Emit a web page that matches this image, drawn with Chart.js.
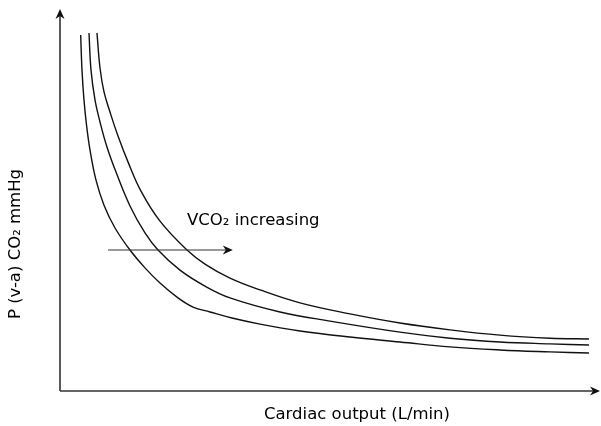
<!DOCTYPE html>
<html>
<head>
<meta charset="utf-8">
<script src="https://cdn.jsdelivr.net/npm/chart.js@4"></script>
<style>
  html, body { margin: 0; padding: 0; background: #fff; }
  #wrap { width: 601px; height: 426px; }
</style>
</head>
<body>
<div id="wrap"><canvas id="c" width="601" height="426"></canvas></div>
<script>
// cardiac output (arbitrary units along the x axis)
const lowX  = [0.383, 0.407, 0.444, 0.491, 0.556, 0.667, 0.815, 1.019, 1.296, 1.574, 1.852, 2.167, 2.463, 2.778, 3.185, 3.704, 4.444, 5.370, 6.296, 7.222, 8.148, 9.074, 9.796];
const lowY  = [9.37, 8.45, 7.66, 7.00, 6.34, 5.55, 4.89, 4.29, 3.71, 3.24, 2.84, 2.47, 2.21, 2.08, 1.92, 1.76, 1.58, 1.42, 1.29, 1.16, 1.08, 1.03, 1.00];
const midX  = [0.537, 0.574, 0.648, 0.741, 0.870, 1.037, 1.296, 1.574, 1.815, 2.222, 2.685, 3.148, 4.074, 5.000, 6.296, 7.222, 8.148, 9.074, 9.796];
const midY  = [9.42, 8.45, 7.66, 7.08, 6.42, 5.76, 4.87, 4.16, 3.71, 3.18, 2.76, 2.45, 2.08, 1.84, 1.55, 1.39, 1.29, 1.24, 1.21];
const highX = [0.685, 0.741, 0.815, 0.926, 1.074, 1.259, 1.500, 1.852, 2.352, 2.685, 3.148, 3.704, 4.444, 5.370, 6.296, 7.222, 8.148, 9.074, 9.796];
const highY = [9.42, 8.50, 7.87, 7.34, 6.71, 6.03, 5.26, 4.47, 3.71, 3.34, 2.97, 2.66, 2.32, 2.03, 1.79, 1.61, 1.47, 1.39, 1.37];

const xTitle = 'Cardiac output (L/min)';
const yTitle = 'P (v-a) CO₂ mmHg';
const noteText = 'VCO₂ increasing';
const noteArrow = { x0: 0.89, x1: 3.20, y: 3.71 };

const toPts = (xs, ys) => xs.map((x, i) => ({ x: x, y: ys[i] }));

function arrowHead(ctx, x, y, dir) {
  ctx.save();
  ctx.translate(x, y);
  ctx.rotate(dir);
  ctx.beginPath();
  ctx.moveTo(0, 0);
  ctx.lineTo(-10, -4.5);
  ctx.lineTo(-7, 0);
  ctx.lineTo(-10, 4.5);
  ctx.closePath();
  ctx.fill();
  ctx.restore();
}

const decorations = {
  id: 'decorations',
  afterDraw(chart) {
    const ctx = chart.ctx;
    const a = chart.chartArea;
    const xs = chart.scales.x, ys = chart.scales.y;
    ctx.save();
    // axes
    ctx.strokeStyle = '#333';
    ctx.fillStyle = '#111';
    ctx.lineWidth = 1.6;
    ctx.beginPath();
    ctx.moveTo(a.left, a.bottom);
    ctx.lineTo(a.left, a.top + 4);
    ctx.moveTo(a.left, a.bottom);
    ctx.lineTo(a.right - 4, a.bottom);
    ctx.stroke();
    arrowHead(ctx, a.left, a.top - 2, -Math.PI / 2);
    arrowHead(ctx, a.right, a.bottom, 0);

    // annotation arrow
    const ay = ys.getPixelForValue(noteArrow.y);
    const ax0 = xs.getPixelForValue(noteArrow.x0);
    const ax1 = xs.getPixelForValue(noteArrow.x1);
    ctx.lineWidth = 1.2;
    ctx.beginPath();
    ctx.moveTo(ax0, ay);
    ctx.lineTo(ax1 - 4, ay);
    ctx.stroke();
    arrowHead(ctx, ax1, ay, 0);

    // texts
    ctx.fillStyle = '#000';
    ctx.font = '16.5px "DejaVu Sans", sans-serif';
    ctx.textBaseline = 'middle';
    ctx.textAlign = 'left';
    ctx.fillText(noteText, 187, 221);
    ctx.textAlign = 'center';
    ctx.fillText(xTitle, 357, 415);
    ctx.save();
    ctx.translate(16, 244);
    ctx.rotate(-Math.PI / 2);
    ctx.fillText(yTitle, 0, 0);
    ctx.restore();
    ctx.restore();
  }
};

const lineStyle = {
  borderColor: '#111',
  borderWidth: 1.4,
  pointRadius: 0,
  fill: false,
  tension: 0.4
};

new Chart(document.getElementById('c'), {
  type: 'line',
  data: {
    datasets: [
      Object.assign({ label: 'low', data: toPts(lowX, lowY) }, lineStyle),
      Object.assign({ label: 'mid', data: toPts(midX, midY) }, lineStyle),
      Object.assign({ label: 'high', data: toPts(highX, highY) }, lineStyle)
    ]
  },
  options: {
    responsive: false,
    animation: false,
    layout: { padding: { left: 60, right: 1, top: 11, bottom: 35 } },
    plugins: { legend: { display: false }, tooltip: { enabled: false } },
    scales: {
      x: { type: 'linear', min: 0, max: 10, display: false },
      y: { type: 'linear', min: 0, max: 10, display: false }
    }
  },
  plugins: [decorations]
});
</script>
</body>
</html>
